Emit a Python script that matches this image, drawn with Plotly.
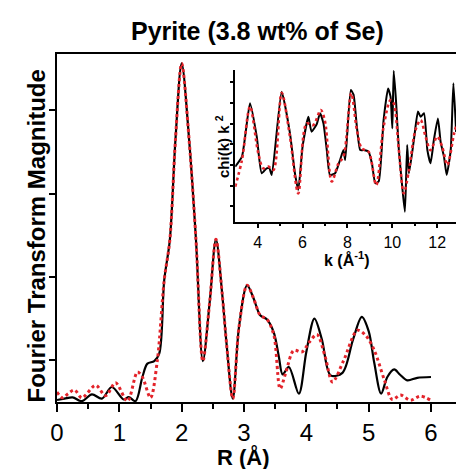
import plotly.graph_objects as go

# Fourier transform magnitude: measured data (black) and shell fit (red)
r_data = [0.0, 0.12, 0.25, 0.4, 0.56, 0.72, 0.88, 1.07, 1.15, 1.26, 1.37, 1.45, 1.56, 1.64,
          1.72, 1.81, 1.9, 2.0, 2.12, 2.23, 2.34, 2.45, 2.55, 2.65, 2.72, 2.82, 2.92, 3.05,
          3.15, 3.26, 3.37, 3.48, 3.56, 3.62, 3.72, 3.88, 4.0, 4.13, 4.25, 4.39, 4.58, 4.75,
          4.89, 5.0, 5.09, 5.2, 5.3, 5.41, 5.5, 5.62, 5.78, 6.0]
ft_data = [0.024, 0.04, 0.056, 0.01, 0.092, 0.04, 0.18, 0.03, 0.06, 0.01, 0.30, 0.46, 0.49, 0.58,
           1.46, 1.94, 3.14, 4.06, 3.14, 1.94, 0.49, 1.2, 1.95, 1.3, 0.7, 0.04, 0.9, 1.40,
           1.25, 1.04, 0.99, 0.83, 0.54, 0.33, 0.42, 0.10, 0.6, 1.00, 0.75, 0.32, 0.35, 0.75,
           1.02, 0.85, 0.47, 0.10, 0.3, 0.39, 0.33, 0.26, 0.29, 0.30]

r_fit = [0.0, 0.09, 0.18, 0.28, 0.4, 0.62, 0.78, 0.94, 1.13, 1.29, 1.37, 1.5, 1.61, 1.72,
         1.81, 1.9, 2.0, 2.12, 2.23, 2.34, 2.45, 2.55, 2.65, 2.72, 2.82, 2.92, 3.05, 3.15,
         3.26, 3.37, 3.48, 3.58, 3.67, 3.8, 3.93, 4.05, 4.17, 4.3, 4.42, 4.6, 4.82, 4.95,
         5.09, 5.25, 5.38, 5.51, 5.67, 5.83, 6.0]
ft_fit = [0.12, 0.05, 0.1, 0.145, 0.05, 0.20, 0.075, 0.23, 0.01, 0.36, 0.30, 0.05, 0.50, 1.46,
          1.94, 3.14, 4.06, 3.14, 1.94, 0.49, 1.2, 1.95, 1.3, 0.7, 0.04, 0.9, 1.40, 1.25,
          1.04, 0.99, 0.8, 0.16, 0.35, 0.62, 0.60, 0.72, 0.81, 0.55, 0.24, 0.5, 0.86, 0.8,
          0.62, 0.27, 0.03, 0.084, 0.02, 0.07, 0.02]

# k^2-weighted EXAFS: data (black) and fit (red)
k_data = [3.0, 3.3, 3.66, 3.96, 4.18, 4.4, 4.52, 4.63, 5.07, 5.44, 5.66, 5.81, 6.0, 6.26,
          6.4, 6.63, 6.78, 6.93, 7.08, 7.22, 7.45, 7.67, 7.82, 7.9, 8.15, 8.27, 8.42, 8.57,
          8.72, 8.94, 9.09, 9.24, 9.39, 9.61, 9.81, 9.92, 10.0, 10.06, 10.17, 10.29, 10.44,
          10.56, 10.66, 10.74, 10.96, 11.14, 11.26, 11.41, 11.56, 11.7, 11.85, 12.03, 12.15,
          12.3, 12.42, 12.6, 12.72, 12.84]
chi_data = [-1.08, -0.6, 1.98, 0.37, -1.4, -1.16, -1.16, -1.48, 2.54, 0.53, -1.4, -2.2, -0.12,
            1.33, 0.61, 0.97, 1.5, 1.01, -0.28, -1.48, -1.4, -0.76, -0.28, -0.76, 2.62, 2.4,
            0.85, -0.28, -0.28, -0.36, -0.92, -1.88, -1.8, 1.17, 2.7, 2.3, 0.77, 3.55, 1.98,
            -0.28, -2.05, -3.26, -0.03, -1.4, 0.21, 1.58, 1.33, 1.5, -0.28, -0.92, 0.21, 1.25,
            0.12, -0.6, -1.48, -0.28, 2.95, 0.6]

k_fit = [3.0, 3.3, 3.66, 4.03, 4.25, 4.48, 4.7, 5.07, 5.44, 5.81, 6.18, 6.48, 6.81, 7.0,
         7.3, 7.6, 7.82, 8.17, 8.42, 8.64, 8.94, 9.28, 9.61, 9.92, 10.06, 10.29, 10.51,
         10.74, 11.03, 11.26, 11.48, 11.7, 12.0, 12.22, 12.45, 12.75, 12.84]
chi_fit = [-2.05, -0.76, 1.82, -0.44, -1.16, -1.08, -1.24, 2.49, 0.37, -2.37, 1.01, 0.93, 1.66,
           1.1, -1.8, -0.92, -0.6, 2.46, 0.7, -0.2, -0.36, -1.97, 0.85, 2.14, 1.98, -0.28,
           -2.37, -1.24, 0.69, 1.17, 0.37, -0.28, 0.37, -0.12, -1.0, 0.53, 0.85]

RED = "#e3232a"
FONT = "Liberation Sans, Arial, sans-serif"

fig = go.Figure()

fig.add_trace(go.Scatter(x=r_data, y=ft_data, mode="lines",
                         line=dict(color="black", width=2.2, shape="spline", smoothing=0.9),
                         xaxis="x", yaxis="y", showlegend=False))
fig.add_trace(go.Scatter(x=r_fit, y=ft_fit, mode="lines",
                         line=dict(color=RED, width=3, dash="dot", shape="spline", smoothing=0.9),
                         xaxis="x", yaxis="y", showlegend=False))
fig.add_trace(go.Scatter(x=k_data, y=chi_data, mode="lines",
                         line=dict(color="black", width=2, shape="spline", smoothing=0.5),
                         xaxis="x2", yaxis="y2", showlegend=False))
fig.add_trace(go.Scatter(x=k_fit, y=chi_fit, mode="lines",
                         line=dict(color=RED, width=2.6, dash="dot", shape="spline", smoothing=0.9),
                         xaxis="x2", yaxis="y2", showlegend=False))

W, H = 456, 469
L, R_, T, B = 57, 0, 54, 67
pw, ph = W - L - R_, H - T - B
BASE = H - B  # pixel row of the R axis


def py(row):
    """Paper-fraction y for a pixel row measured from the top of the figure."""
    return (BASE - row) / ph


fig.update_layout(
    width=W, height=H,
    margin=dict(l=L, r=R_, t=T, b=B, pad=0),
    paper_bgcolor="white", plot_bgcolor="white",
    font=dict(family=FONT, color="black"),
    xaxis=dict(range=[0, pw / 62.33], showline=True, linecolor="black", linewidth=2,
               mirror=True, showgrid=False, zeroline=False,
               tickmode="array", tickvals=[0, 1, 2, 3, 4, 5, 6],
               ticks="outside", ticklen=8, tickwidth=1.5, tickcolor="black",
               tickfont=dict(size=24, family=FONT),
               minor=dict(tickvals=[0.5, 1.5, 2.5, 3.5, 4.5, 5.5], ticks="outside",
                          ticklen=5, tickwidth=1.5, tickcolor="black")),
    yaxis=dict(range=[0, ph / 83.4], showline=True, linecolor="black", linewidth=2,
               mirror=False, showgrid=False, zeroline=False,
               tickmode="array", tickvals=[0.5, 1.5, 2.5, 3.5], showticklabels=False,
               ticks="outside", ticklen=6, tickwidth=1.5, tickcolor="black"),
    xaxis2=dict(domain=[(235.2 - L) / pw, 1], anchor="y2",
                range=[3, 3 + (W - 235.2) / 22.45], showline=True, linecolor="black",
                linewidth=1.5, showgrid=False, zeroline=False,
                tickmode="array", tickvals=[4, 6, 8, 10, 12],
                ticks="outside", ticklen=5, tickwidth=1.5, tickcolor="black",
                tickfont=dict(size=16, family=FONT),
                minor=dict(tickvals=[5, 7, 9, 11], ticks="outside", ticklen=3,
                           tickwidth=1.5, tickcolor="black")),
    yaxis2=dict(domain=[py(221.7), py(70)], anchor="x2",
                range=[-3.74, 3.59], showline=True, linecolor="black", linewidth=1.5,
                showgrid=False, zeroline=False,
                tickmode="array", tickvals=[-3, -2, -1, 0, 1, 2, 3], showticklabels=False,
                ticks="outside", ticklen=3, tickwidth=1.5, tickcolor="black"),
    annotations=[
        dict(text="<b>Pyrite (3.8 wt% of Se)</b>", x=(257 - L) / pw, y=py(31),
             xref="paper", yref="paper", xanchor="center", yanchor="middle",
             showarrow=False, font=dict(size=25, family=FONT)),
        dict(text="<b>Fourier Transform Magnitude</b>", x=-(L - 35.5) / pw, y=py(236),
             xref="paper", yref="paper", xanchor="center", yanchor="middle", textangle=-90,
             showarrow=False, font=dict(size=24, family=FONT)),
        dict(text="<b>R (Å)</b>", x=3.0, y=py(457),
             xref="x", yref="paper", xanchor="center", yanchor="middle",
             showarrow=False, font=dict(size=22, family=FONT)),
        dict(text="<b>k (Å<sup>-1</sup>)</b>", x=8.0, y=py(259),
             xref="x2", yref="paper", xanchor="center", yanchor="middle",
             showarrow=False, font=dict(size=16, family=FONT)),
        dict(text="<b>chi(k) k <sup>2</sup></b>", x=(222 - L) / pw, y=py(147),
             xref="paper", yref="paper", xanchor="center", yanchor="middle", textangle=-90,
             showarrow=False, font=dict(size=15, family=FONT)),
    ],
)

fig.write_html("out.html")
